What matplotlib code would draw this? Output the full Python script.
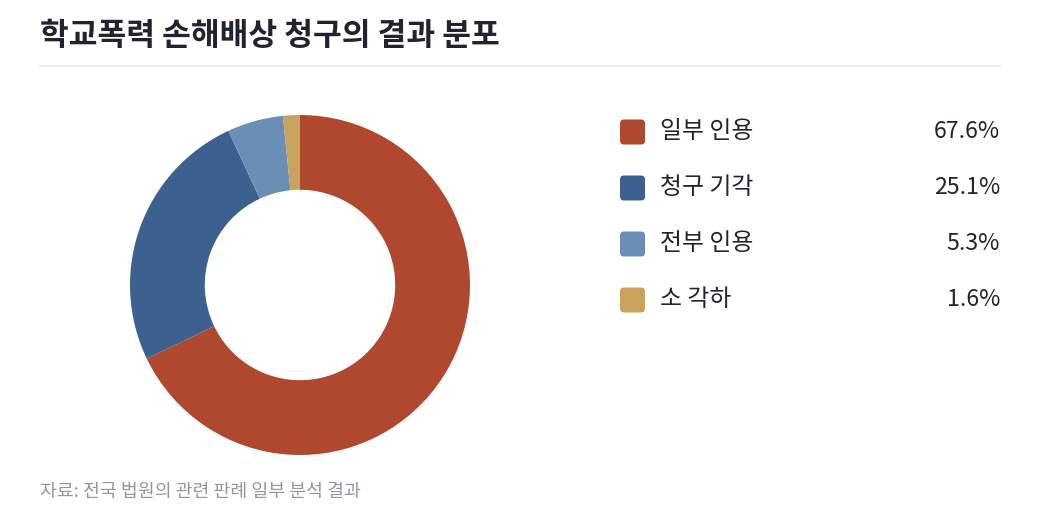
import matplotlib.pyplot as plt
from matplotlib.patches import FancyBboxPatch

plt.rcParams['font.family'] = ['Noto Sans CJK KR', 'DejaVu Sans']

# 데이터
labels = ['일부 인용', '청구 기각', '전부 인용', '소 각하']
values = [67.6, 25.1, 5.3, 1.6]
colors = ['#B0482F', '#3D618F', '#6B8EB7', '#C9A35C']
title = '학교폭력 손해배상 청구의 결과 분포'
source = '자료: 전국 법원의 관련 판례 일부 분석 결과'

W, H = 1040, 525
fig = plt.figure(figsize=(W / 100, H / 100), dpi=100)
fig.patch.set_facecolor('white')

# 배경용 축 (픽셀 좌표)
bg = fig.add_axes([0, 0, 1, 1])
bg.set_xlim(0, W)
bg.set_ylim(H, 0)
bg.axis('off')

bg.text(40, 36, title, fontsize=22.5, fontweight='bold', color='#1F2430',
        va='center', ha='left')
bg.plot([40, 1000], [66, 66], color='#E5E7EB', lw=1.2)
bg.text(40, 492, source, fontsize=13.2, color='#9097A3', va='center', ha='left')

# 도넛
ax = fig.add_axes([130 / W, (H - 455) / H, 340 / W, 340 / H])
ax.pie(values, colors=colors, startangle=90, counterclock=False, radius=1,
       wedgeprops=dict(width=0.44, edgecolor='none'))
ax.set_xlim(-1, 1)
ax.set_ylim(-1, 1)
ax.set_aspect('equal')
ax.axis('off')

# 범례
for i, (lab, val, col) in enumerate(zip(labels, values, colors)):
    y = 132 + i * 56
    bg.add_patch(FancyBboxPatch((620, y - 12.5), 25, 25,
                                boxstyle='round,pad=0,rounding_size=4',
                                facecolor=col, edgecolor='none'))
    bg.text(660, y, lab, fontsize=17.2, fontweight='medium', color='#1F2430',
            va='center', ha='left')
    bg.text(1000, y, f'{val}%', fontsize=16.7, fontweight='medium', color='#1F2430',
            va='center', ha='right')

fig.savefig('out.png', dpi=100)
